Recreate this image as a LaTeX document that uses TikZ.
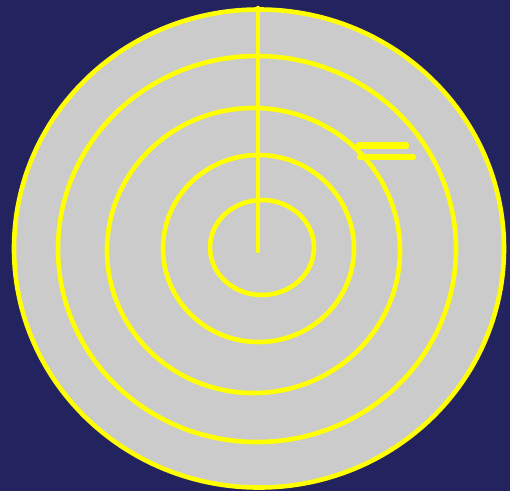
\documentclass[tikz,border=0pt]{standalone}
\definecolor{navy}{HTML}{23235F}
\definecolor{disk}{HTML}{CBCBCB}
\definecolor{ring}{HTML}{FFFF00}
\begin{document}
\begin{tikzpicture}[x=1pt,y=-1pt,
  ringline/.style={draw=ring,line width=4.6pt},
  tickline/.style={draw=ring,line width=6.5pt,line cap=round}]
\fill[navy] (0,0) rectangle (510,491);
\useasboundingbox (0,0) rectangle (510,491);
\filldraw[fill=disk,ringline] (259,248.5) ellipse [x radius=245pt, y radius=239pt];
\draw[ringline] (257,249) ellipse [x radius=199pt, y radius=193pt];
\draw[ringline] (253.5,250.5) ellipse [x radius=146.5pt, y radius=142.5pt];
\draw[ringline] (258.5,248.5) ellipse [x radius=95.5pt, y radius=93.5pt];
\draw[ringline] (262,247.5) ellipse [x radius=52pt, y radius=47.5pt];
\coordinate (top) at (258,8);
\coordinate (hub) at (258,251);
\draw[ringline,line cap=round] (top) -- (hub);
\coordinate (a1) at (359,145.5);
\coordinate (a2) at (406,145.5);
\coordinate (b1) at (360,157);
\coordinate (b2) at (413,157);
\draw[tickline] (a1) -- (a2);
\draw[tickline] (b1) -- (b2);
\end{tikzpicture}
\end{document}
